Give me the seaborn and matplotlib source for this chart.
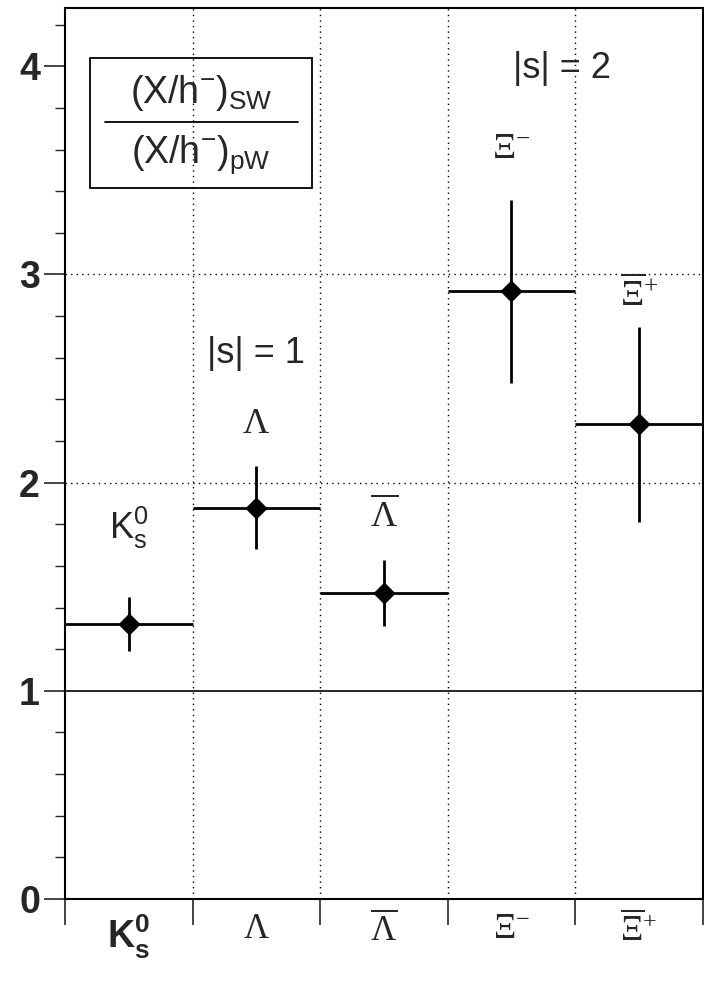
import matplotlib
matplotlib.use("Agg")
import numpy as np
import pandas as pd
import matplotlib.pyplot as plt
import seaborn as sns
from matplotlib.patches import Rectangle

# particles and double ratios
particles = [r'$K^{0}_{s}$', r'$\Lambda$', r'$\overline{\Lambda}$', r'$\Xi^{-}$', r'$\overline{\Xi}^{+}$']
ratio = [1.32, 1.88, 1.47, 2.92, 2.28]
ratio_err = [0.13, 0.20, 0.16, 0.44, 0.47]
label_gap = [0.22, 0.12, 0.12, 0.16, 0.06]  # label above top of error bar
greek = [False, True, True, True, True]

sns.set_style("ticks")
plt.rcParams['font.family'] = ['Liberation Sans', 'DejaVu Sans']
plt.rcParams['mathtext.fontset'] = 'custom'
plt.rcParams['mathtext.rm'] = 'Liberation Sans'
plt.rcParams['mathtext.it'] = 'Liberation Sans'
plt.rcParams['mathtext.default'] = 'regular'

df = pd.DataFrame({'x': np.arange(len(ratio)), 'ratio': ratio, 'err': ratio_err})

fig = plt.figure(figsize=(7.04, 9.85), dpi=100)
ax = fig.add_axes([0.0923, 0.0873, 0.906, 0.9046])

# reference lines
ax.axhline(1, color='black', lw=1.2, zorder=1)
for yv in [2, 3]:
    ax.axhline(yv, color='black', lw=1.0, ls=(0, (1, 3)), zorder=1)
for xv in np.arange(0.5, len(ratio) - 0.5, 1):
    ax.axvline(xv, color='black', lw=1.0, ls=(0, (1, 3)), zorder=1)

ax.errorbar(df['x'], df['ratio'], xerr=0.5, yerr=df['err'], fmt='none',
            ecolor='black', elinewidth=2.0, capsize=0, zorder=2)
sns.scatterplot(data=df, x='x', y='ratio', marker='D', s=110, color='black',
                edgecolor='black', ax=ax, zorder=3, legend=False)

# particle labels above the points
for i, lab in enumerate(particles):
    if greek[i]:
        ax.text(i, ratio[i] + ratio_err[i] + label_gap[i], lab, ha='center', va='bottom',
                fontsize=26, family='Liberation Serif')
    else:
        ax.text(i, ratio[i] + ratio_err[i] + label_gap[i], lab, ha='center', va='bottom',
                fontsize=26)

ax.text(1.0, 2.62, '|s| = 1', ha='center', va='center', fontsize=26)
ax.text(3.4, 3.99, '|s| = 2', ha='center', va='center', fontsize=26)

# ratio legend box
ax.add_patch(Rectangle((0.039, 0.798), 0.348, 0.146, transform=ax.transAxes,
                       fill=False, edgecolor='black', lw=1.3, zorder=4))
ax.plot([0.062, 0.365], [0.872, 0.872], transform=ax.transAxes, color='black', lw=1.3)
ax.text(0.213, 0.905, r'$(X/h^{-})_{SW}$', transform=ax.transAxes, ha='center',
        va='center', fontsize=27)
ax.text(0.213, 0.835, r'$(X/h^{-})_{pW}$', transform=ax.transAxes, ha='center',
        va='center', fontsize=27)

ax.set_xlim(-0.5, len(ratio) - 0.5)
ax.set_ylim(0, 4.28)
ax.set_xlabel('')
ax.set_ylabel('')

ax.set_yticks([0, 1, 2, 3, 4])
ax.set_yticks(np.arange(0, 4.21, 0.2), minor=True)
ax.set_yticklabels(['0', '1', '2', '3', '4'], fontsize=27, fontweight='bold')
ax.tick_params(axis='y', which='major', direction='out', length=15, width=1.2, pad=3)
ax.tick_params(axis='y', which='minor', direction='out', length=7, width=1.0)

ax.set_xticks(df['x'])
ax.set_xticks(np.arange(-0.5, len(ratio), 1), minor=True)
ax.set_xticklabels(particles, fontsize=27)
for i, t in enumerate(ax.get_xticklabels()):
    if greek[i]:
        t.set_family('Liberation Serif')
        t.set_fontsize(25)
    else:
        t.set_fontweight('bold')
ax.tick_params(axis='x', which='major', length=0, pad=10)
ax.tick_params(axis='x', which='minor', direction='out', length=19, width=1.2)

for sp in ax.spines.values():
    sp.set_linewidth(1.5)
    sp.set_color('black')

fig.savefig('out.png', dpi=100)
